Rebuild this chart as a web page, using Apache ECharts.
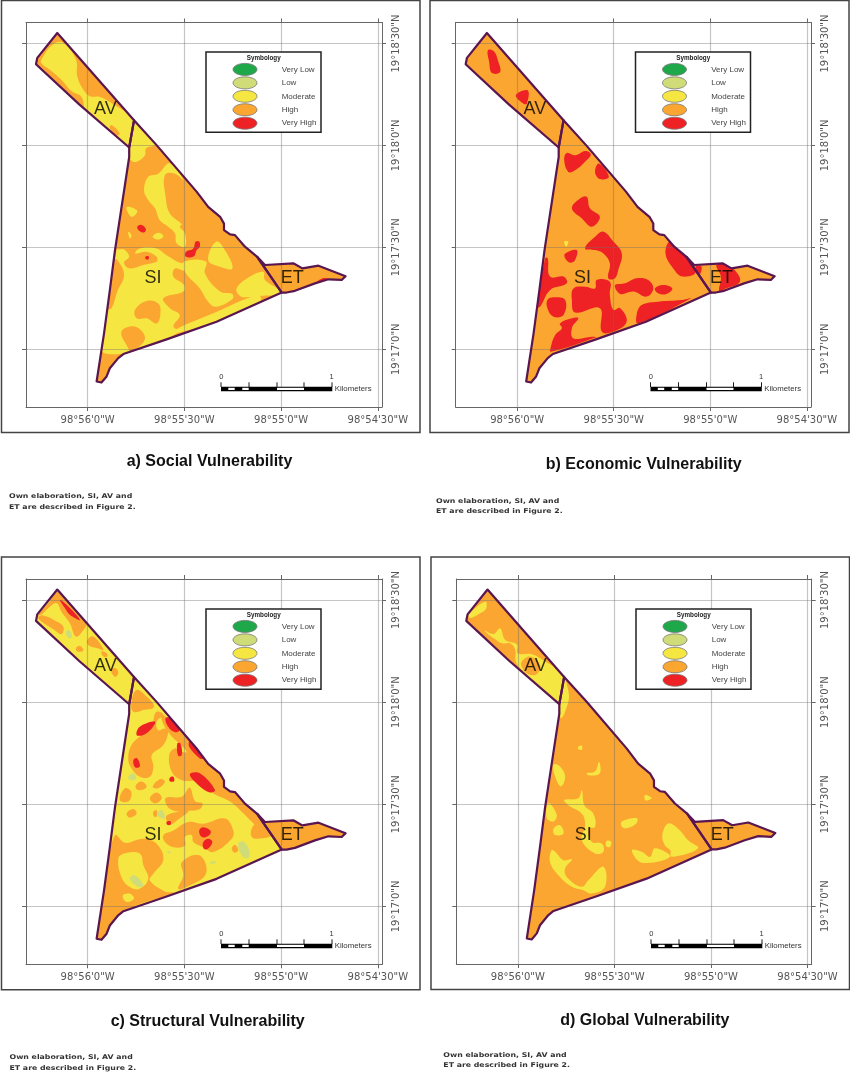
<!DOCTYPE html>
<html>
<head>
<meta charset="utf-8">
<title>Vulnerability maps</title>
<script src="https://cdn.jsdelivr.net/npm/echarts@6/dist/echarts.min.js"></script>
<style>
html, body { margin: 0; padding: 0; background: #fff; }
#main { width: 850px; height: 1072px; }
</style>
</head>
<body>
<div id="main"></div>
<script>
// all map values: arc seconds east of 98°56'0"W (lon) and north of 19°17'0"N (lat)
var lonMin = -19.1, lonMax = 91.3, latMin = -17, latMax = 96.2;
var lonTicks = [0, 30, 60, 90];
var lonLabels = ["98°56'0\"W", "98°55'30\"W", "98°55'0\"W", "98°54'30\"W"];
var latTicks = [0, 30, 60, 90];
var latLabels = ["19°17'0\"N", "19°17'30\"N", "19°18'0\"N", "19°18'30\"N"];

var legendLabels = ["Very Low", "Low", "Moderate", "High", "Very High"];
var legendColors = ["#1fa84a", "#cfdc78", "#f5e642", "#fba631", "#ee2124"];
var titles = ["a) Social Vulnerability", "b) Economic Vulnerability", "c) Structural Vulnerability", "d) Global Vulnerability"];
var noteLines = ["Own elaboration, SI, AV and", "ET are described in Figure 2."];
var areaNames = ["AV", "SI", "ET"];
var areaPoints = [[5.5, 70.6], [20.3, 20.9], [63.5, 20.9]];

// boundaries
var avRing = [[-9.4,93.1],[14.4,67.4],[12.9,59.4],[-2.6,72.1],[-16.0,83.9],[-15.6,85.8]];
var siNorthEast = [[14.4,67.4],[21.4,60.1],[33.8,46.4],[37.4,41.9],[41.1,39.0],[42.3,37.0],[42.3,35.1],[44.2,33.8],[45.7,33.6],[48.8,30.2],[52.6,27.2],[60.2,16.7]];
var siSouthWest = [[40.0,8.1],[24.5,2.9],[11.1,-1.4],[9.5,-2.6],[6.9,-5.6],[5.9,-8.0],[4.3,-9.8],[2.8,-9.5],[5.1,4.7],[6.9,17.4],[8.5,29.2],[12.9,56.6],[12.9,59.4]];
var etRing = [[52.6,27.2],[55.0,24.8],[63.8,25.3],[66.6,23.8],[71.6,24.6],[80.0,21.5],[78.8,20.4],[74.7,20.6],[70.5,19.4],[64.3,17.2],[61.7,16.7],[60.2,16.7]];
var siRing = siNorthEast.concat(siSouthWest);
var outlineRing = siNorthEast.slice(0, 11).concat(etRing.slice(0, 12), siSouthWest, [[-2.6,72.1],[-16.0,83.9],[-15.6,85.8],[-9.4,93.1]]);

// a) social
var socialModerate = [
    [[-14.3,85.3],[-10.7,89.8],[-7.5,90.2],[-3.6,85.3],[-3.2,80.4],[-1.3,76.4],[0.7,74.5],[3.8,74.3],[6.9,72.8],[14.7,66.9],[13.3,58.6],[-0.3,69.9],[-1.9,74.3],[-5.0,76.0],[-7.5,78.7],[-11.2,81.9],[-14.3,84.1]],
    [[14.4,67.2],[20.9,60.4],[18.1,59.1],[17.8,57.1],[15.2,55.2],[13.3,55.9],[12.6,59.4]],
    [[25.5,54.7],[29.7,49.8],[27.1,51.7],[24.0,51.3],[24.2,44.9],[25.5,40.0],[29.2,36.8],[28.6,36.1],[30.2,34.1],[30.2,30.2],[27.6,31.2],[27.1,34.1],[25.0,36.1],[22.4,38.0],[20.9,41.5],[18.8,43.9],[17.5,46.8],[18.8,50.8],[21.9,51.7]],
    [[12.1,41.9],[15.4,40.8],[13.6,39.0]],
    [[20.2,33.1],[21.9,34.3],[23.5,33.3],[21.9,32.3]],
    [[12.6,34.6],[13.6,33.6],[13.1,32.6]],
    [[40.0,31.7],[42.9,28.7],[44.9,23.8],[41.1,24.3],[37.4,26.3]],
    [[9.5,29.4],[11.3,29.4],[12.9,27.2],[11.3,25.5],[13.1,23.8],[17.3,24.8],[21.4,25.8],[21.4,27.2],[18.3,28.7],[14.7,28.2],[16.2,29.7],[21.4,29.7],[24.5,27.7],[29.2,25.3],[30.2,26.1],[30.2,23.3],[27.1,23.8],[26.6,21.4],[29.9,18.9],[29.7,17.0],[23.5,15.0],[25.5,12.1],[28.6,10.1],[26.6,6.7],[28.6,5.2],[13.6,-0.7],[3.8,0],[6.4,13.5],[9.0,29.4]],
    [[30.2,25.8],[36.7,25.8],[36.4,22.3],[41.1,17.0],[44.9,16.3],[44.9,14.8],[39.8,12.5],[37.4,14.0],[34.8,17.9],[30.2,22.8]],
    [[46.2,17.9],[50.4,21.4],[54.5,22.8],[55.0,20.4],[60.7,16.5],[53.5,15.7],[49.3,15.3],[47.3,15.7]],
    [[52.9,16.0],[39.0,10.6],[27.1,5.7],[27.1,4.7],[40.0,8.1],[53.5,14.0]]
];
var socialHigh = [
    [[7.4,66.0],[10.0,63.5],[9.0,63.0],[6.9,65.0]],
    [[14.7,11.6],[18.3,14.2],[21.9,13.5],[22.6,10.6],[21.4,7.6],[18.3,9.1],[15.2,9.1]],
    [[10.5,5.2],[14.7,6.7],[17.8,3.2],[13.6,-0.7],[12.6,0.3]],
    [[9.2,26.3],[11.3,21.9],[9.2,17.0],[7.4,12.1],[5.9,12.1],[8.0,26.3]]
];
var socialVeryHigh = [
    [[15.4,36.1],[16.8,36.6],[18.1,35.3],[17.5,34.4],[16.0,34.9]],
    [[30.5,28.7],[32.8,29.7],[33.5,31.7],[34.6,31.7],[34.8,30.2],[33.8,29.2],[33.0,27.4],[30.5,27.2]],
    [[17.9,27.2],[18.9,27.4],[18.9,26.5],[18.1,26.5]],
    [[69.8,18.9],[72.9,20.9],[74.7,20.6],[71.0,19.4]]
];

// b) economic
var economicModerate = [
    [[14.6,31.7],[15.9,31.7],[15.2,30.2]]
];
var economicVeryHigh = [
    [[-9.1,88.0],[-7.3,87.8],[-6.0,85.1],[-5.3,81.6],[-7.9,81.4],[-8.7,84.6]],
    [[-0.4,74.8],[3.3,76.2],[3.0,72.3],[2.0,72.3]],
    [[14.6,55.7],[15.4,57.8],[18.0,57.1],[21.1,58.4],[22.9,57.4],[21.1,55.2],[18.0,52.7],[15.9,52.2]],
    [[24.2,52.2],[25.4,54.7],[28.5,50.8],[25.7,50.1]],
    [[17.0,41.5],[19.5,44.4],[21.6,44.9],[22.6,41.5],[25.7,39.0],[23.2,36.1],[20.1,38.5]],
    [[21.1,29.7],[24.2,33.1],[26.8,34.6],[29.9,31.7],[32.5,28.2],[31.4,23.3],[30.4,20.9],[28.3,20.9],[28.8,25.3],[26.8,28.2],[24.2,29.2]],
    [[14.9,28.2],[18.5,29.2],[18.0,26.3],[16.4,25.5],[14.9,26.8]],
    [[46.1,28.2],[47.5,31.7],[51.1,28.7],[55.5,22.8],[51.4,21.4],[48.5,23.8]],
    [[55.4,24.3],[57.3,24.3],[56.6,21.9]],
    [[61.9,24.8],[64.8,24.8],[67.6,23.3],[69.2,19.9],[64.8,17.9],[62.8,17.0],[63.3,21.4]],
    [[9.5,26.8],[10.2,21.4],[14.4,21.4],[15.4,19.4],[10.2,17.4],[7.1,12.5],[6.1,12.5],[8.7,26.8]],
    [[17.5,17.9],[21.1,18.4],[24.2,17.9],[24.7,20.4],[28.8,19.9],[28.8,16.0],[29.9,11.6],[32.0,12.1],[34.0,8.1],[29.9,5.2],[26.3,5.2],[25.7,12.1],[18.0,10.8],[17.0,14.5]],
    [[9.4,14.5],[11.3,15.3],[14.9,14.5],[14.4,10.1],[11.3,9.6],[9.4,12.1]],
    [[13.3,7.6],[17.0,9.1],[19.0,9.1],[17.0,6.2],[17.5,3.2],[23.2,3.7],[24.5,3.5],[10.5,-0.7],[10.5,0.8],[11.8,4.2],[13.9,6.2]],
    [[30.4,18.9],[33.5,19.4],[37.1,20.9],[40.7,20.4],[42.3,17.9],[40.2,15.5],[36.1,17.0],[32.0,16.3]],
    [[42.8,17.9],[45.4,18.9],[48.2,17.9],[46.4,16.3],[43.8,16.5]],
    [[37.1,10.1],[38.7,13.0],[43.8,14.0],[51.1,14.5],[54.0,15.0],[37.6,7.6]]
];

// c) structural
var structuralHigh = [
    [[-15.3,85.7],[-11.7,89.6],[-9.4,93.0],[-0.5,83.2],[-1.3,81.2],[-3.6,79.3],[-5.5,83.2],[-8.1,86.6],[-9.6,89.1],[-12.2,87.6],[-14.3,85.8]],
    [[-15.3,84.7],[-13.8,85.5],[-9.6,83.7],[-7.5,82.2],[-8.1,80.0],[-10.7,81.5]],
    [[-3.6,75.9],[-2.4,76.6],[-1.3,75.2],[-3.2,74.9]],
    [[-0.1,78.3],[1.8,79.3],[4.9,75.4],[2.8,75.9],[0.2,76.8]],
    [[4.3,74.9],[5.9,74.4],[6.1,73.4],[4.9,73.4]],
    [[7.2,69.5],[8.7,70.0],[9.5,68.5],[8.5,67.5]],
    [[13.6,60.2],[15.2,63.6],[17.8,62.1],[20.6,58.7],[17.3,57.7],[14.2,57.2]],
    [[21.4,57.2],[23.5,56.3],[21.4,54.3],[21.9,51.8],[24.0,52.3],[25.0,51.4],[23.5,47.4],[19.9,44.5],[20.4,41.1],[19.3,38.1],[16.2,38.1],[13.6,40.6],[12.6,43.5],[13.6,47.4],[16.2,49.9],[20.4,53.3],[20.4,54.8]],
    [[23.0,56.4],[30.2,50.4],[37.4,42.0],[42.1,37.4],[42.3,35.2],[45.7,33.7],[48.8,30.3],[52.9,27.3],[55.5,23.4],[54.5,22.0],[50.9,24.9],[47.8,27.8],[44.2,30.8],[39.0,33.2],[33.8,36.7],[29.2,37.1],[26.1,39.6],[25.3,44.5],[27.1,46.5],[28.6,45.5],[30.7,45.5],[24.5,51.8]],
    [[50.9,22.8],[52.9,24.8],[55.0,23.3],[57.1,20.9],[52.9,19.9],[50.9,20.4]],
    [[15.0,35.7],[16.8,36.7],[18.3,35.2],[16.8,34.2],[15.2,34.4]],
    [[20.2,35.2],[22.4,37.4],[24.0,36.7],[21.9,34.7]],
    [[10.0,31.3],[11.6,34.7],[13.6,33.5],[12.6,30.8]],
    [[19.3,31.8],[21.4,33.5],[23.0,31.8],[20.9,30.3]],
    [[12.1,27.3],[14.2,28.6],[15.2,27.3],[13.1,26.1]],
    [[20.4,27.8],[21.4,28.3],[21.4,26.4],[20.6,26.4]],
    [[24.3,31.9],[29.2,32.2],[31.7,34.9],[33.3,31.0],[35.6,30.3],[34.8,28.6],[30.7,28.0],[28.6,27.8],[25.0,29.1]],
    [[24.5,26.7],[31.2,28.0],[28.6,25.9],[25.5,24.1]],
    [[23.5,20.9],[26.6,22.3],[31.2,24.8],[35.9,24.3],[42.6,25.8],[45.2,22.3],[44.7,19.9],[39.0,16.0],[35.9,17.4],[32.8,18.9],[32.3,20.9],[30.2,20.4],[30.2,17.9],[26.6,17.4],[24.0,18.9]],
    [[8.5,20.9],[11.6,18.7],[17.3,19.9],[21.4,18.4],[23.5,13.8],[20.4,9.6],[19.3,7.6],[24.0,4.4],[26.6,4.0],[11.1,-1.7],[4.3,-10.0],[2.3,-8.5],[5.9,10.1]],
    [[29.2,13.0],[34.8,15.0],[36.7,9.6],[30.7,5.7],[28.1,5.2],[29.7,9.1]],
    [[44.7,17.0],[45.7,18.1],[46.7,16.5],[45.5,15.8]]
];
var structuralModerate = [
    [[9.5,14.0],[11.1,15.5],[16.2,15.5],[17.3,12.1],[18.8,8.1],[16.2,5.2],[13.1,5.7],[10.5,8.6]],
    [[10.9,3.2],[13.1,3.7],[14.4,2.3],[12.1,1.3]]
];
var structuralLow = [
    [[-6.8,80.6],[-5.8,81.2],[-4.8,79.3],[-5.8,78.8]],
    [[46.7,18.4],[48.3,19.1],[50.1,16.5],[49.8,14.2],[47.8,15.0]],
    [[12.6,38.1],[14.2,39.1],[15.0,37.6],[13.3,37.1]],
    [[21.6,27.3],[23.0,28.3],[24.0,25.9],[22.4,26.1]],
    [[13.1,8.1],[14.7,9.1],[17.3,6.2],[15.7,5.7]],
    [[37.9,13.0],[39.8,13.2],[39.0,12.5]],
    [[24.5,16.0],[25.7,16.2],[25.5,15.5]]
];
var structuralVeryHigh = [
    [[-8.6,90.1],[-6.5,88.6],[-2.4,84.2],[-5.5,85.7],[-7.0,87.6]],
    [[15.2,50.4],[16.2,52.8],[20.9,54.3],[19.9,52.3],[17.3,50.4]],
    [[24.2,55.3],[26.1,55.3],[28.6,51.8],[27.1,51.2],[25.0,52.8]],
    [[27.8,47.9],[28.8,47.9],[29.2,44.5],[28.1,44.3]],
    [[31.7,48.4],[35.9,43.5],[34.8,43.5],[31.5,46.9]],
    [[14.2,43.0],[15.4,43.5],[16.2,41.1],[14.7,40.9]],
    [[25.5,37.8],[26.6,38.1],[26.8,36.8],[25.5,36.8]],
    [[31.7,38.8],[34.8,39.1],[39.5,34.2],[37.9,33.5],[34.3,35.7]],
    [[34.6,22.3],[35.9,23.3],[38.2,22.1],[37.4,20.7],[35.4,20.4]],
    [[35.9,18.9],[37.4,19.9],[38.7,18.9],[37.1,16.8],[35.9,17.2]],
    [[24.5,24.8],[25.7,25.0],[25.7,24.0],[24.7,24.0]]
];

// d) global
var globalModerate = [
    [[-15.3,85.7],[-10.1,89.6],[-9.8,87.6],[-11.7,86.1],[-14.8,84.7]],
    [[-10.3,81.0],[-7.5,80.0],[-5.5,81.7],[-3.9,78.3],[-0.3,77.0],[0,74.4],[4.3,74.1],[6.9,72.9],[14.7,67.2],[13.2,59.0],[1.8,69.0],[-0.6,71.9],[-0.8,75.4],[-2.4,77.3],[-4.8,77.3],[-7.5,78.8]],
    [[14.2,66.5],[15.9,62.1],[14.7,57.2],[13.4,55.3],[13.1,59.2]],
    [[18.8,46.9],[19.9,47.2],[19.9,46.0],[18.8,46.2]],
    [[21.4,39.1],[24.0,39.6],[25.2,42.5],[25.5,39.1],[22.4,38.4]],
    [[11.1,41.6],[13.1,41.1],[14.7,38.1],[13.4,35.2],[11.6,38.1]],
    [[39.5,32.7],[41.6,31.8],[39.7,31.1]],
    [[14.5,31.2],[18.8,31.7],[19.9,34.1],[20.7,29.7],[23.5,27.2],[24.0,23.3],[21.9,22.8],[23.0,18.9],[26.1,18.4],[26.6,16.0],[24.0,15.5],[19.9,19.4],[20.9,23.8],[19.9,27.2],[15.7,29.7]],
    [[9.5,30.3],[12.1,26.9],[11.1,24.9],[9.0,25.9]],
    [[11.1,22.8],[13.1,23.8],[14.2,21.4],[11.6,20.9]],
    [[27.6,19.2],[29.0,18.9],[28.6,17.4],[27.4,17.7]],
    [[32.3,24.9],[36.9,25.9],[36.9,24.4],[33.8,22.9],[32.3,23.4]],
    [[44.9,20.9],[46.7,24.3],[49.8,22.8],[52.9,19.4],[56.0,17.0],[47.8,14.5],[47.3,16.5],[45.7,17.9]],
    [[35.4,16.5],[38.5,16.0],[41.1,14.5],[42.6,17.0],[47.3,14.5],[38.5,12.8]],
    [[10.5,16.5],[11.6,16.0],[14.2,13.5],[16.8,13.8],[14.7,11.1],[15.2,8.6],[19.9,5.7],[21.9,7.6],[26.6,11.6],[27.1,5.7],[23.0,3.7],[20.4,4.7],[16.8,5.7],[12.6,9.1],[10.0,13.0]]
];
var globalHigh = [
    [[1.2,71.9],[3.8,73.4],[6.9,71.0],[5.9,68.2],[3.3,68.2],[1.4,70.0]]
];

var LOW = legendColors[1], MOD = legendColors[2], HIGH = legendColors[3], VHIGH = legendColors[4];
var LINE = '#5a1650';

var panels = [
    { grid: [26, 22.5, 356, 384.5], dx: 0, dy: 0, frame: [1.5, 0.5, 418.5, 432], titleX: 209.5, titleY: 461.5, noteX: 9, noteY: [496.7, 507.3],
      base: [[avRing, HIGH], [siRing, HIGH], [etRing, HIGH]],
      layers: [[socialModerate, MOD], [socialHigh, HIGH], [socialVeryHigh, VHIGH]] },
    { grid: [455.7, 22.5, 355.3, 384.5], dx: 429.5, dy: 0, frame: [430, 0.5, 419, 432], titleX: 643.7, titleY: 465, noteX: 436, noteY: [501, 511.7],
      base: [[avRing, HIGH], [siRing, HIGH], [etRing, HIGH]],
      layers: [[economicModerate, MOD], [economicVeryHigh, VHIGH]] },
    { grid: [26, 579, 356, 385.3], dx: 0, dy: 557, frame: [1.5, 557, 418.5, 432.7], titleX: 207.7, titleY: 1021.3, noteX: 9.5, noteY: [1057.7, 1068.7],
      base: [[avRing, MOD], [siRing, MOD], [etRing, HIGH]],
      layers: [[structuralHigh, HIGH], [structuralModerate, MOD], [structuralLow, LOW], [structuralVeryHigh, VHIGH]] },
    { grid: [456.3, 579, 355.4, 385], dx: 430, dy: 557, frame: [431, 557, 418.5, 432.5], titleX: 644.8, titleY: 1021, noteX: 443.3, noteY: [1055, 1065.7],
      base: [[avRing, HIGH], [siRing, HIGH], [etRing, HIGH]],
      layers: [[globalModerate, MOD], [globalHigh, HIGH]] }
];

function lookup(ticks, labels) {
    return function (v) {
        var i = ticks.indexOf(v);
        return i < 0 ? '' : labels[i];
    };
}

function axisBase(gridIndex, min, max, ticks, pos) {
    return {
        type: 'value', gridIndex: gridIndex, position: pos, min: min, max: max, z: 5,
        axisLine: { show: true, onZero: false, lineStyle: { color: '#666', width: 1 } },
        axisTick: { show: true, length: 4, customValues: ticks, lineStyle: { color: '#666', width: 1 } },
        axisLabel: { show: false },
        splitLine: { show: false }
    };
}

// polygons of one class, cut along the study area outline
function polySeries(i, rings, color, z, mode) {
    return {
        type: 'custom', coordinateSystem: 'cartesian2d', xAxisIndex: i * 2, yAxisIndex: i * 2,
        z: z, clip: false, animation: false, silent: true,
        data: rings.map(function (r, k) { return [k]; }),
        renderItem: function (params, api) {
            var pts = rings[params.dataIndex].map(function (p) { return api.coord(p); });
            var el = { type: 'polygon', shape: { points: pts } };
            if (mode === 'line') {
                el.style = { fill: 'none', stroke: color, lineWidth: 2.2, lineJoin: 'round' };
            } else {
                el.style = { fill: color };
                if (mode === 'zone') {
                    el.shape.smooth = 0.4;
                }
                el.clipPath = { type: 'polygon', shape: { points: outlineRing.map(function (p) { return api.coord(p); }) } };
            }
            return el;
        }
    };
}

var grids = [], xAxes = [], yAxes = [], series = [], gfx = [];

panels.forEach(function (p, i) {
    grids.push({ left: p.grid[0], top: p.grid[1], width: p.grid[2], height: p.grid[3] });

    var xb = axisBase(i, lonMin, lonMax, lonTicks, 'bottom');
    xb.splitLine = { show: true, lineStyle: { color: 'rgba(110,110,110,0.4)', width: 1.2 } };
    xb.axisLabel = { show: true, customValues: lonTicks, margin: 8, color: '#555', fontSize: 10, fontFamily: 'DejaVu Sans', formatter: lookup(lonTicks, lonLabels) };
    xAxes.push(xb, axisBase(i, lonMin, lonMax, lonTicks, 'top'));

    var yl = axisBase(i, latMin, latMax, latTicks, 'left');
    yl.splitLine = { show: true, lineStyle: { color: 'rgba(110,110,110,0.4)', width: 1.2 } };
    var yr = axisBase(i, latMin, latMax, latTicks, 'right');
    yr.axisLabel = { show: true, customValues: latTicks, rotate: 90, margin: 9, color: '#555', fontSize: 10, fontFamily: 'DejaVu Sans', formatter: lookup(latTicks, latLabels) };
    yAxes.push(yl, yr);

    p.base.forEach(function (b) { series.push(polySeries(i, [b[0]], b[1], 2, 'base')); });
    p.layers.forEach(function (l) { series.push(polySeries(i, l[0], l[1], 2, 'zone')); });
    series.push(polySeries(i, [avRing, siRing, etRing], LINE, 6, 'line'));
    series.push({
        type: 'scatter', xAxisIndex: i * 2, yAxisIndex: i * 2, z: 7, symbolSize: 0, silent: true, animation: false,
        data: areaPoints.map(function (pt, k) { return { value: pt, name: areaNames[k] }; }),
        label: { show: true, position: 'inside', formatter: '{b}', color: '#000', fontSize: 18, fontFamily: 'Liberation Sans' }
    });

    // outer frame
    gfx.push({ type: 'rect', z: 10, shape: { x: p.frame[0], y: p.frame[1], width: p.frame[2], height: p.frame[3] }, style: { fill: 'none', stroke: '#444', lineWidth: 1.5 } });

    // legend
    var dx = p.dx, dy = p.dy;
    gfx.push({ type: 'rect', z: 10, shape: { x: 206 + dx, y: 52 + dy, width: 115, height: 80.3 }, style: { fill: '#fff', stroke: '#222', lineWidth: 1.5 } });
    gfx.push({ type: 'text', z: 11, style: { x: 263.7 + dx, y: 58.5 + dy, text: 'Symbology', fill: '#222', font: 'bold 6.3px "Liberation Sans"', textAlign: 'center', textVerticalAlign: 'middle' } });
    legendLabels.forEach(function (name, k) {
        var cy = 69.4 + k * 13.45 + dy;
        gfx.push({ type: 'ellipse', z: 11, shape: { cx: 245 + dx, cy: cy, rx: 12, ry: 6 }, style: { fill: legendColors[k], stroke: '#777', lineWidth: 0.8 } });
        gfx.push({ type: 'text', z: 11, style: { x: 281.7 + dx, y: cy, text: name, fill: '#444', font: '8px "Liberation Sans"', textVerticalAlign: 'middle' } });
    });

    // scale bar
    gfx.push({ type: 'rect', z: 10, shape: { x: 221 + dx, y: 386.7 + dy, width: 111.3, height: 4.6 }, style: { fill: '#000' } });
    [221, 249, 277, 304, 332].forEach(function (x) {
        gfx.push({ type: 'line', z: 10, shape: { x1: x + dx, y1: 382.3 + dy, x2: x + dx, y2: 387 + dy }, style: { stroke: '#000', lineWidth: 0.9 } });
    });
    [[228.3, 6.4], [242.3, 6.4], [277, 27]].forEach(function (w) {
        gfx.push({ type: 'rect', z: 11, shape: { x: w[0] + dx, y: 387.8 + dy, width: w[1], height: 2.2 }, style: { fill: '#fff' } });
    });
    gfx.push({ type: 'text', z: 11, style: { x: 221.3 + dx, y: 376.5 + dy, text: '0', fill: '#333', font: '7.5px "Liberation Sans"', textAlign: 'center', textVerticalAlign: 'middle' } });
    gfx.push({ type: 'text', z: 11, style: { x: 331.7 + dx, y: 376.5 + dy, text: '1', fill: '#333', font: '7.5px "Liberation Sans"', textAlign: 'center', textVerticalAlign: 'middle' } });
    gfx.push({ type: 'text', z: 11, style: { x: 334.7 + dx, y: 388.5 + dy, text: 'Kilometers', fill: '#333', font: '7.8px "Liberation Sans"', textVerticalAlign: 'middle' } });

    // title and note
    gfx.push({ type: 'text', z: 11, style: { x: p.titleX, y: p.titleY, text: titles[i], fill: '#111', font: 'bold 16px "Liberation Sans"', textAlign: 'center', textVerticalAlign: 'middle' } });
    noteLines.forEach(function (line, k) {
        gfx.push({ type: 'text', z: 11, x: p.noteX, y: p.noteY[k], scaleX: 1.2, style: { x: 0, y: 0, text: line, fill: '#333', font: 'bold 6.5px "DejaVu Sans"', textVerticalAlign: 'middle' } });
    });
});

var myChart = echarts.init(document.getElementById('main'));
myChart.setOption({
    backgroundColor: '#fff',
    animation: false,
    grid: grids,
    xAxis: xAxes,
    yAxis: yAxes,
    series: series,
    graphic: { elements: gfx }
});
</script>
</body>
</html>
